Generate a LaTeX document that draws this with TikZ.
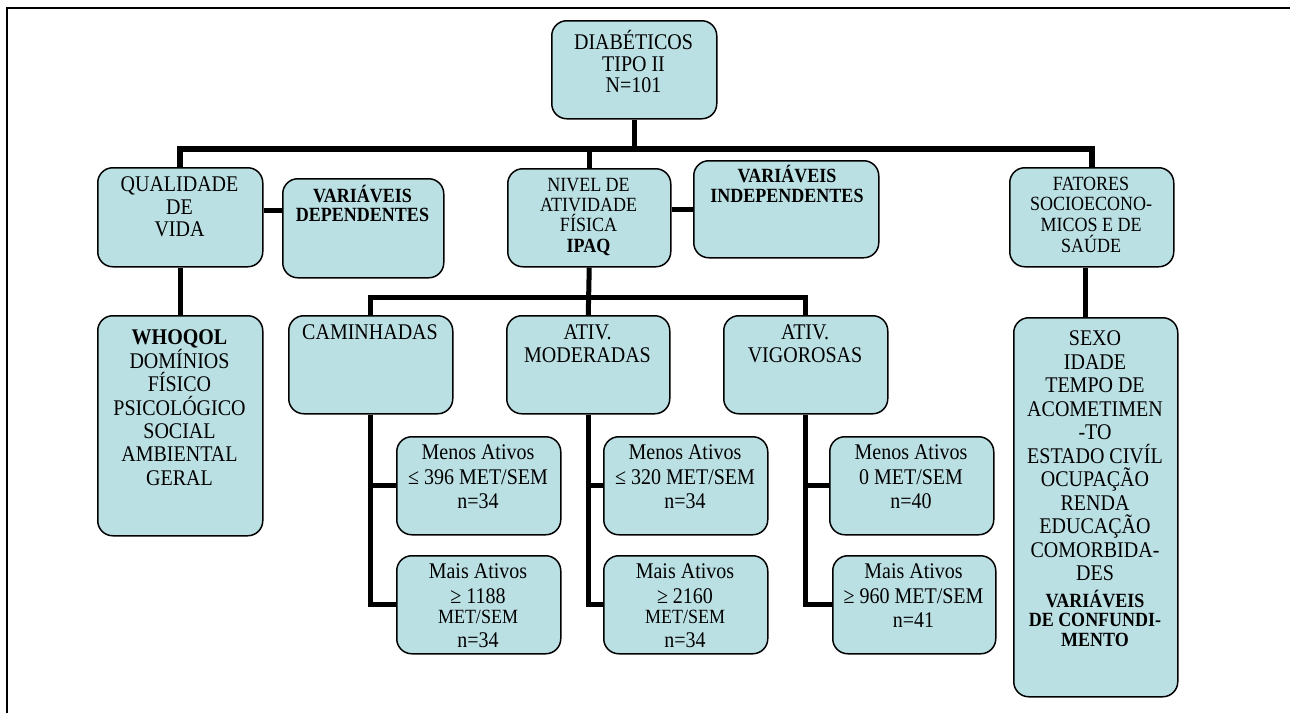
\documentclass[tikz,border=0pt]{standalone}
\usepackage{fontspec}
\usepackage{graphicx}
\setmainfont{Liberation Serif}
\definecolor{boxfill}{RGB}{187,224,228}
\tikzset{
  box/.style={draw=black, line width=1.5pt, fill=boxfill, rounded corners=15pt, inner sep=0pt},
  conn/.style={draw=black, line width=5pt},
  bus/.style={draw=black, line width=6pt},
  lbl/.style={inner sep=0pt, anchor=base},
}
\newcommand\mybox[5]{\node[box, anchor=north west, minimum width={(#4-#2)*1pt}, minimum height={(#5-#3)*1pt}] (#1) at (#2,#3) {};}
\newcommand\tx[3]{\scalebox{1}[1.12]{\parbox[t]{180pt}{\centering\fontsize{#1}{\fpeval{round(#2/1.12,2)}}\selectfont #3}}}
\begin{document}
\begin{tikzpicture}[x=1pt, y=-1pt]
\useasboundingbox (0,0) rectangle (1290,713);
\draw[line width=2pt] (6.5,713) -- (6.5,8) -- (1290,8);

% boxes
\mybox{top}{551}{20}{716}{118}
\mybox{qv}{97}{167}{262}{266}
\mybox{vd}{282}{178}{443}{277}
\mybox{niv}{507}{168}{670}{266}
\mybox{vi}{693}{160}{878}{257}
\mybox{fat}{1009}{167}{1173}{266}
\mybox{who}{97}{315}{262}{535}
\mybox{cam}{288}{315}{452}{413}
\mybox{mod}{506}{315}{669}{413}
\mybox{vig}{723}{315}{887}{413}
\mybox{m1}{396}{436}{560}{534}
\mybox{p1}{396}{555}{560}{653}
\mybox{m2}{603}{436}{767}{534}
\mybox{p2}{603}{555}{767}{653}
\mybox{m3}{829}{436}{993}{534}
\mybox{p3}{832}{555}{995}{653}
\mybox{fc}{1013}{317}{1177}{696}

% connectors
\coordinate (bus1) at (633,149);
\coordinate (bus2) at (588,297);
\coordinate (qvd) at (270,210);
\coordinate (fcs) at (1085,290);
\draw[bus] (qv.north) |- (bus1) -| (fat.north);
\draw[conn] (top.south) -- (top.south |- bus1);
\draw[conn] (niv.north) -- (niv.north |- bus1);
\draw[conn] (qv.east |- qvd) -- (vd.west |- qvd);
\draw[conn] (niv.east |- vi.west) -- (vi.west);
\draw[conn] (qv.south) -- (who.north);
\draw[conn] (fat.south -| fcs) -- (fc.north -| fcs);
\draw[conn] (niv.south) -- (mod.north);
\draw[conn] (cam.north) |- (bus2) -| (vig.north);
\draw[conn] (cam.south) |- (p1.west);
\draw[conn] (m1.west) -- (m1.west -| cam.south);
\draw[conn] (mod.south) |- (p2.west);
\draw[conn] (m2.west) -- (m2.west -| mod.south);
\draw[conn] (vig.south) |- (p3.west);
\draw[conn] (m3.west) -- (m3.west -| vig.south);

% texts
\node[lbl] (top-t) at (633.5,49) {\tx{20}{22}{DIABÉTICOS\\TIPO II\\N=101}};
\node[lbl] (qv-t) at (179.5,191.5) {\tx{20}{22.5}{QUALIDADE\\DE\\VIDA}};
\node[lbl] (vd-t) at (362.5,202.5) {\tx{18}{19}{\bfseries VARIÁVEIS\\DEPENDENTES}};
\node[lbl] (niv-t) at (588.5,191) {\tx{18}{20.5}{NIVEL DE\\ATIVIDADE\\FÍSICA\\\textbf{IPAQ}}};
\node[lbl] (vi-t) at (787,182) {\tx{18}{20}{\bfseries VARIÁVEIS\\INDEPENDENTES}};
\node[lbl] (fat-t) at (1091,190) {\tx{18}{20.7}{FATORES\\SOCIOECONO-\\MICOS E DE\\SAÚDE}};
\node[lbl] (who-t) at (179.5,344.5) {\tx{20}{23.5}{\textbf{WHOQOL}\\DOMÍNIOS\\FÍSICO\\PSICOLÓGICO\\SOCIAL\\AMBIENTAL\\GERAL}};
\node[lbl] (cam-t) at (370,339.5) {\tx{20}{23}{CAMINHADAS}};
\node[lbl] (mod-t) at (587.5,339.5) {\tx{20}{23}{ATIV.\\MODERADAS}};
\node[lbl] (vig-t) at (805,339.5) {\tx{20}{23}{ATIV.\\VIGOROSAS}};
\node[lbl] (m1-t) at (478,459.6) {\tx{20}{24.5}{Menos Ativos\\≤ 396 MET/SEM\\n=34}};
\node[lbl] (p1-t) at (478,578.6) {\tx{20}{24.5}{Mais Ativos\\≥ 1188\\[-4pt]{\fontsize{18}{21.88}\selectfont MET/SEM}\\n=34}};
\node[lbl] (m2-t) at (685,459.6) {\tx{20}{24.5}{Menos Ativos\\≤ 320 MET/SEM\\n=34}};
\node[lbl] (p2-t) at (685,578.6) {\tx{20}{24.5}{Mais Ativos\\≥ 2160\\[-4pt]{\fontsize{18}{21.88}\selectfont MET/SEM}\\n=34}};
\node[lbl] (m3-t) at (911,459.6) {\tx{20}{24.5}{Menos Ativos\\0 MET/SEM\\n=40}};
\node[lbl] (p3-t) at (913.5,578.6) {\tx{20}{24.5}{Mais Ativos\\≥ 960 MET/SEM\\n=41}};
\node[lbl] (fc-t) at (1095,345.6) {\tx{20}{23.5}{SEXO\\IDADE\\TEMPO DE\\ACOMETIMEN\\-TO\\ESTADO CIVÍL\\OCUPAÇÃO\\RENDA\\EDUCAÇÃO\\COMORBIDA-\\DES\\[3pt]{\fontsize{18}{20.98}\selectfont\bfseries VARIÁVEIS}\\[-3.6pt]{\fontsize{18}{20.98}\selectfont\bfseries DE CONFUNDI-}\\[-3.6pt]{\fontsize{18}{20.98}\selectfont\bfseries MENTO}}};
\end{tikzpicture}
\end{document}
